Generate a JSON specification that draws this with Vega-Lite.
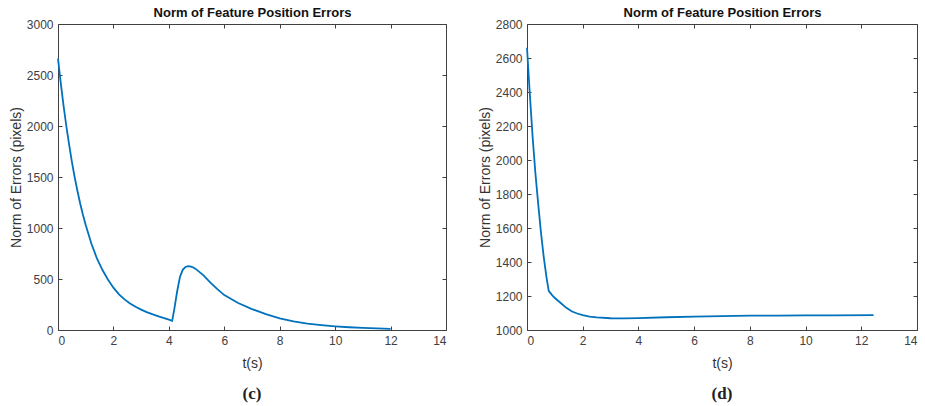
{
  "$schema": "https://vega.github.io/schema/vega-lite/v6.json",
  "padding": {"left": 8, "top": 6, "right": 0, "bottom": 0},
  "background": "white",
  "config": {
    "font": "Liberation Sans",
    "view": {"stroke": "#404040", "strokeWidth": 1},
    "axis": {"grid": false, "domain": false, "tickColor": "#404040", "tickSize": -4, "labelColor": "#404040", "labelFontSize": 12, "labelPadding": 9, "titleColor": "#333333", "titleFontSize": 14, "titleFontWeight": "normal", "labelFont": "Liberation Sans", "titleFont": "Liberation Sans", "format": "d"}
  },
  "datasets": {
    "left": [
      {"t": 0, "v": 2660}, {"t": 0.1, "v": 2420}, {"t": 0.2, "v": 2200}, {"t": 0.3, "v": 2000}, {"t": 0.4, "v": 1820},
      {"t": 0.5, "v": 1650}, {"t": 0.6, "v": 1500}, {"t": 0.7, "v": 1365}, {"t": 0.8, "v": 1240}, {"t": 0.9, "v": 1130},
      {"t": 1.0, "v": 1030}, {"t": 1.2, "v": 850}, {"t": 1.4, "v": 705}, {"t": 1.6, "v": 590}, {"t": 1.8, "v": 495},
      {"t": 2.0, "v": 415}, {"t": 2.2, "v": 350}, {"t": 2.4, "v": 300}, {"t": 2.6, "v": 260}, {"t": 2.8, "v": 228},
      {"t": 3.0, "v": 200}, {"t": 3.2, "v": 176}, {"t": 3.4, "v": 155}, {"t": 3.6, "v": 136}, {"t": 3.8, "v": 118},
      {"t": 4.0, "v": 102}, {"t": 4.12, "v": 90}, {"t": 4.2, "v": 210}, {"t": 4.3, "v": 380}, {"t": 4.4, "v": 520},
      {"t": 4.5, "v": 590}, {"t": 4.6, "v": 618}, {"t": 4.7, "v": 626}, {"t": 4.8, "v": 622}, {"t": 4.9, "v": 610},
      {"t": 5.0, "v": 592}, {"t": 5.25, "v": 535}, {"t": 5.5, "v": 465}, {"t": 5.75, "v": 400}, {"t": 6.0, "v": 342},
      {"t": 6.5, "v": 265}, {"t": 7.0, "v": 205}, {"t": 7.5, "v": 155}, {"t": 8.0, "v": 115}, {"t": 8.5, "v": 85},
      {"t": 9.0, "v": 63}, {"t": 9.5, "v": 48}, {"t": 10.0, "v": 36}, {"t": 10.5, "v": 27}, {"t": 11.0, "v": 20},
      {"t": 11.5, "v": 15}, {"t": 12.0, "v": 11}
    ],
    "right": [
      {"t": 0, "v": 2660}, {"t": 0.1, "v": 2390}, {"t": 0.2, "v": 2140}, {"t": 0.3, "v": 1925}, {"t": 0.4, "v": 1745},
      {"t": 0.5, "v": 1575}, {"t": 0.6, "v": 1430}, {"t": 0.7, "v": 1310}, {"t": 0.78, "v": 1230}, {"t": 0.9, "v": 1205},
      {"t": 1.0, "v": 1188}, {"t": 1.2, "v": 1160}, {"t": 1.4, "v": 1132}, {"t": 1.6, "v": 1110}, {"t": 1.8, "v": 1097},
      {"t": 2.0, "v": 1087}, {"t": 2.25, "v": 1079}, {"t": 2.5, "v": 1074}, {"t": 3.0, "v": 1069}, {"t": 3.5, "v": 1068},
      {"t": 4.0, "v": 1070}, {"t": 5.0, "v": 1075}, {"t": 6.0, "v": 1079}, {"t": 7.0, "v": 1082}, {"t": 8.0, "v": 1084},
      {"t": 9.0, "v": 1085}, {"t": 10.0, "v": 1086}, {"t": 11.0, "v": 1086.5}, {"t": 12.44, "v": 1087}
    ]
  },
  "spacing": 30,
  "hconcat": [
    {
      "width": 388, "height": 306,
      "title": {"text": "(c)", "orient": "bottom", "font": "Liberation Serif", "fontWeight": "bold", "fontSize": 17, "color": "#222222", "offset": 16},
      "layer": [
        {
          "data": {"name": "left"},
          "mark": {"type": "line", "color": "#0072BD", "strokeWidth": 1.8},
          "encoding": {
            "x": {"field": "t", "type": "quantitative", "scale": {"domain": [0, 14], "nice": false}, "axis": {"orient": "bottom", "values": [0, 2, 4, 6, 8, 10, 12, 14], "title": "t(s)", "titlePadding": 10}},
            "y": {"field": "v", "type": "quantitative", "scale": {"domain": [0, 3000], "nice": false}, "axis": {"orient": "left", "values": [0, 500, 1000, 1500, 2000, 2500, 3000], "title": "Norm of Errors (pixels)", "titlePadding": 3}}
          }
        },
        {
          "data": {"name": "left"},
          "mark": {"type": "line", "opacity": 0},
          "encoding": {
            "x": {"field": "t", "type": "quantitative", "scale": {"domain": [0, 14], "nice": false}, "axis": {"orient": "top", "values": [0, 2, 4, 6, 8, 10, 12, 14], "labels": false, "title": "Norm of Feature Position Errors", "titleFontWeight": "bold", "titleFontSize": 13, "titleColor": "#111111", "titlePadding": 4}},
            "y": {"field": "v", "type": "quantitative", "scale": {"domain": [0, 3000], "nice": false}, "axis": {"orient": "right", "values": [0, 500, 1000, 1500, 2000, 2500, 3000], "labels": false, "title": null}}
          }
        }
      ],
      "resolve": {"axis": {"x": "independent", "y": "independent"}}
    },
    {
      "width": 390, "height": 306,
      "title": {"text": "(d)", "orient": "bottom", "font": "Liberation Serif", "fontWeight": "bold", "fontSize": 17, "color": "#222222", "offset": 16},
      "layer": [
        {
          "data": {"name": "right"},
          "mark": {"type": "line", "color": "#0072BD", "strokeWidth": 1.8},
          "encoding": {
            "x": {"field": "t", "type": "quantitative", "scale": {"domain": [0, 14], "nice": false}, "axis": {"orient": "bottom", "values": [0, 2, 4, 6, 8, 10, 12, 14], "title": "t(s)", "titlePadding": 10}},
            "y": {"field": "v", "type": "quantitative", "scale": {"domain": [1000, 2800], "nice": false}, "axis": {"orient": "left", "values": [1000, 1200, 1400, 1600, 1800, 2000, 2200, 2400, 2600, 2800], "title": "Norm of Errors (pixels)", "titlePadding": 3}}
          }
        },
        {
          "data": {"name": "right"},
          "mark": {"type": "line", "opacity": 0},
          "encoding": {
            "x": {"field": "t", "type": "quantitative", "scale": {"domain": [0, 14], "nice": false}, "axis": {"orient": "top", "values": [0, 2, 4, 6, 8, 10, 12, 14], "labels": false, "title": "Norm of Feature Position Errors", "titleFontWeight": "bold", "titleFontSize": 13, "titleColor": "#111111", "titlePadding": 4}},
            "y": {"field": "v", "type": "quantitative", "scale": {"domain": [1000, 2800], "nice": false}, "axis": {"orient": "right", "values": [1000, 1200, 1400, 1600, 1800, 2000, 2200, 2400, 2600, 2800], "labels": false, "title": null}}
          }
        }
      ],
      "resolve": {"axis": {"x": "independent", "y": "independent"}}
    }
  ]
}
